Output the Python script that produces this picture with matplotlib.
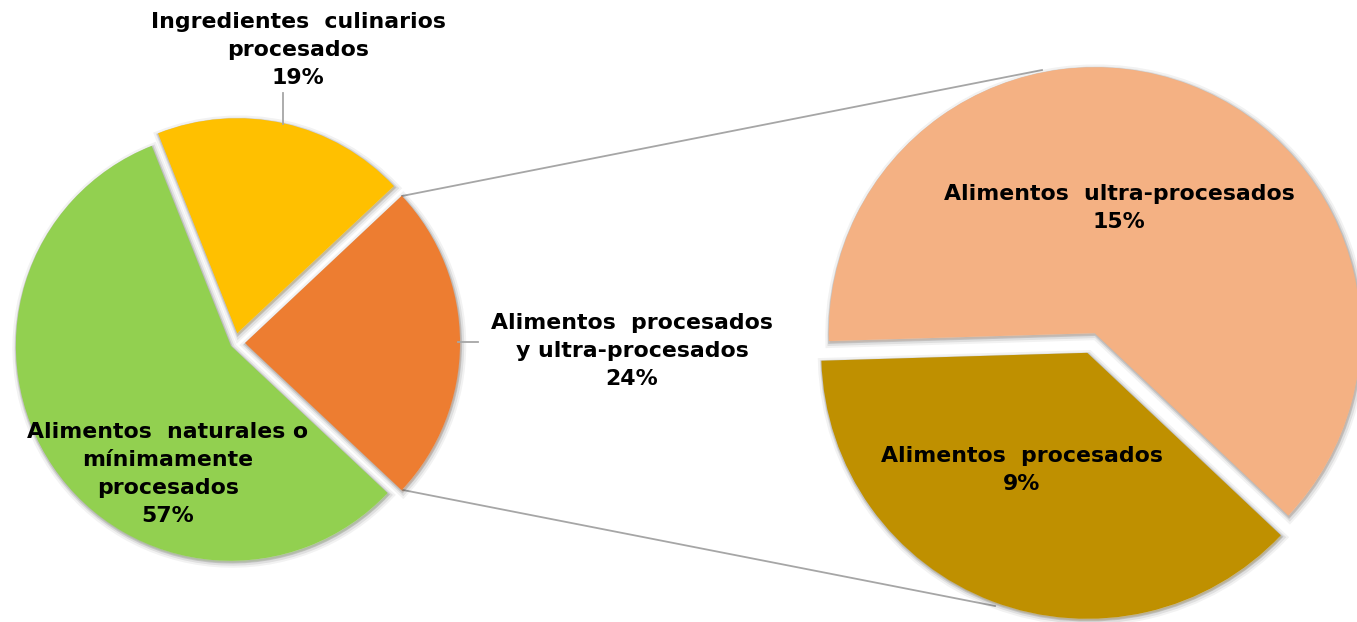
import matplotlib
matplotlib.use('Agg')
import matplotlib.pyplot as plt
import matplotlib.patheffects as pe

# ── Data ──────────────────────────────────────────────────────────────
main_labels = ['Alimentos  procesados\ny ultra-procesados',
               'Ingredientes  culinarios\nprocesados',
               'Alimentos  naturales o\nmínimamente\nprocesados']
main_values = [24, 19, 57]
sub_labels = ['Alimentos  ultra-procesados', 'Alimentos  procesados']
sub_values = [15, 9]

# ── Palette ───────────────────────────────────────────────────────────
MAIN_COLORS = ['#ED7D31', '#FFC000', '#92D050']
SUB_COLORS = ['#F4B183', '#BF9000']
LINE = '#A6A6A6'

W, H = 1357, 622


def yp(y):
    # pixel row (from top) -> data y (from bottom)
    return H - y


fig = plt.figure(figsize=(W / 100, H / 100), dpi=100)
ax = fig.add_axes([0, 0, 1, 1])

halo = [
    pe.Stroke(linewidth=7, foreground='#000000', alpha=0.05, offset=(1, -1.5)),
    pe.Stroke(linewidth=4, foreground='#000000', alpha=0.08, offset=(1, -1.5)),
    pe.Stroke(linewidth=2, foreground='#000000', alpha=0.12, offset=(0.5, -1)),
    pe.Normal(),
]

# connector lines between the two pies (behind the pies)
ax.plot([402, 1042], [yp(196), yp(70)], color=LINE, lw=1.3, zorder=0)
ax.plot([403, 995], [yp(490), yp(606)], color=LINE, lw=1.3, zorder=0)

# main pie
ax.pie(main_values, colors=MAIN_COLORS, startangle=-43.2,
       explode=[10, 10, 5], center=(235, yp(343)), radius=215,
       wedgeprops=dict(linewidth=0, path_effects=halo))

# secondary pie (breakdown of the orange slice)
ax.pie(sub_values, colors=SUB_COLORS, startangle=-43.3,
       explode=[10.5, 10.5], center=(1091, yp(343)), radius=266,
       wedgeprops=dict(linewidth=0, path_effects=halo))

# leader lines
ax.plot([283, 283], [yp(93), yp(124)], color=LINE, lw=1.3, zorder=5)
ax.plot([458, 478], [yp(342), yp(342)], color=LINE, lw=1.3, zorder=5)

txt = dict(ha='center', va='center', fontsize=15.8, fontweight='bold',
           color='black', multialignment='center', linespacing=1.48,
           zorder=6)

main_pos = [(632, 351), (298, 50), (168, 474)]
for lab, v, (x, y) in zip(main_labels, main_values, main_pos):
    ax.text(x, yp(y), f'{lab}\n{v}%', **txt)

sub_pos = [(1119, 208), (1022, 470)]
for lab, v, (x, y) in zip(sub_labels, sub_values, sub_pos):
    ax.text(x, yp(y), f'{lab}\n{v}%', **txt)

ax.set_xlim(0, W)
ax.set_ylim(0, H)
ax.set_aspect('equal')
ax.axis('off')

fig.savefig('out.png', dpi=100, facecolor='white')
